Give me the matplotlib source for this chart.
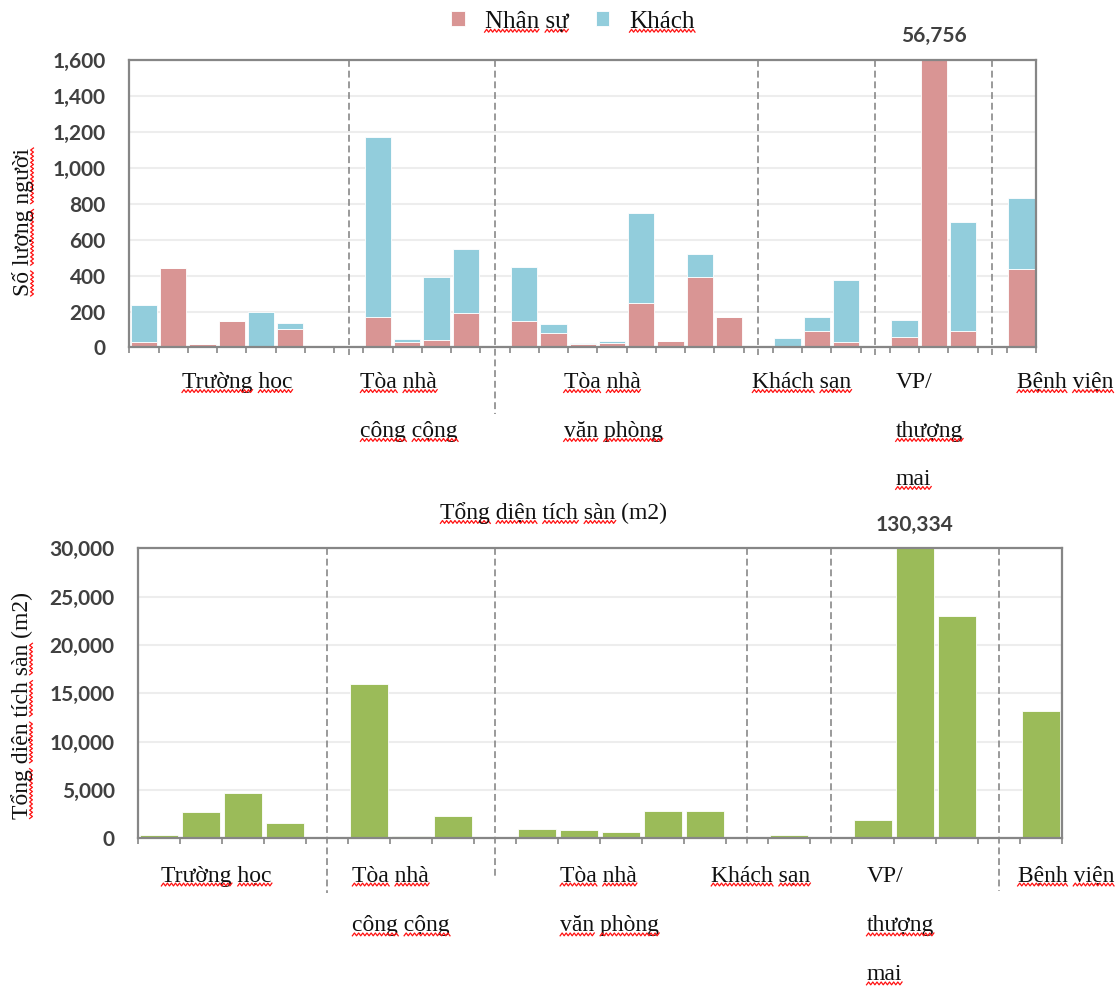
import matplotlib
matplotlib.use('Agg')

import numpy as np
import matplotlib.pyplot as plt
from matplotlib.lines import Line2D
from matplotlib.ticker import FuncFormatter
from matplotlib.transforms import IdentityTransform

# So nguoi theo tung cong trinh, None = o trong ngan cach giua cac nhom
nhan_su = [30, 440, 18, 150, 5, 105, 12, None,
           167, 31, 44, 193, None,
           148, 81, 20, 26, 245, 35, 393, 171, None,
           7, 93, 31, None,
           56, 56756, 93, None,
           436]
khach = [205, 0, 0, 0, 195, 33, 0, None,
         1006, 15, 349, 354, None,
         301, 49, 3, 9, 505, 0, 125, 0, None,
         47, 74, 344, None,
         98, 0, 603, None,
         394]

# Tong dien tich san (m2)
dien_tich = [350, 2760, 4650, 1550, None,
             16000, 270, 2300, None,
             930, 860, 700, 2850, 2800, None,
             350, None,
             1900, 130334, 23000, None,
             13150]

nhom = [['Trường học'], ['Tòa nhà', 'công cộng'], ['Tòa nhà', 'văn phòng'],
        ['Khách sạn'], ['VP/', 'thượng', 'mai'], ['Bệnh viện']]

# vi tri chu thich nhom (theo truc x) va do dai duong ke vach xuong duoi truc
nhom_x_tren = [1.3, 7.4, 14.35, 20.8, 25.7, 29.85]
nhom_x_duoi = [0.05, 4.6, 9.55, 13.15, 16.85, 20.45]
vach_tren = [0.025, 0.23, 0.025, 0.025, 0.025]
vach_duoi = [0.19, 0.14, 0.025, 0.025, 0.18]

HONG = '#D99594'
XANH = '#92CDDC'
LUC = '#9BBB59'
VIEN = '#868686'
CHU = '#111111'
SERIF = 'Liberation Serif'
SANS = 'Lato'

fig = plt.figure(figsize=(11.19, 9.88), dpi=100)
ax1 = fig.add_axes([0.1156, 0.6483, 0.8103, 0.2910])
ax2 = fig.add_axes([0.1236, 0.1515, 0.8252, 0.2935])

gach_chan = []


def khung(ax, n, ymax, step):
    ax.set_xlim(-0.5, n - 0.5)
    ax.set_ylim(0, ymax)
    ax.set_yticks(np.arange(0, ymax + 1, step))
    ax.yaxis.set_major_formatter(FuncFormatter(lambda v, p: f'{v:,.0f}'))
    ax.set_xticks(np.arange(-0.5, n))
    ax.tick_params(axis='x', direction='out', length=4, width=1.2, color=VIEN, labelbottom=False)
    ax.tick_params(axis='y', length=0, pad=17, labelsize=15, labelcolor='#404040')
    for lb in ax.get_yticklabels():
        lb.set_fontfamily(SANS)
        lb.set_fontweight('bold')
    for sp in ax.spines.values():
        sp.set_color(VIEN)
        sp.set_linewidth(1.6)
    ax.yaxis.grid(True, color='#EDEDED', lw=1.5)
    ax.set_axisbelow(True)


def vach_ngan(ax, values, ext):
    pos = [i for i, v in enumerate(values) if v is None]
    for i, e in zip(pos, ext):
        ax.plot([i, i], [1, -e], transform=ax.get_xaxis_transform(), clip_on=False,
                color='#7F7F7F', lw=1.1, ls=(0, (4.5, 2.5)), zorder=1)


def nhan_nhom(ax, xs, rows):
    for x, lines in zip(xs, nhom):
        for k, s in enumerate(lines):
            t = ax.text(x, rows[k], s, transform=ax.get_xaxis_transform(), ha='left', va='center',
                        fontfamily=SERIF, fontsize=17, color=CHU)
            gach_chan.append(t)


def nhan_vuot(ax, xs, totals, ymax):
    for x, v in zip(xs, totals):
        if v > ymax:
            ax.annotate(f'{v:,.0f}', xy=(x, ymax), xytext=(0, 17), textcoords='offset points',
                        ha='center', va='center', fontfamily=SANS, fontweight='bold',
                        fontsize=15, color='#404040', annotation_clip=False)


# bieu do so nguoi
x1 = [i for i, v in enumerate(nhan_su) if v is not None]
ns = [v for v in nhan_su if v is not None]
kh = [v for v in khach if v is not None]
khung(ax1, len(nhan_su), 1600, 200)
b1 = ax1.bar(x1, ns, width=0.9, color=HONG, edgecolor='white', lw=0.6, label='Nhân sự')
b2 = ax1.bar(x1, kh, bottom=ns, width=0.9, color=XANH, edgecolor='white', lw=0.6, label='Khách')
vach_ngan(ax1, nhan_su, vach_tren)
nhan_vuot(ax1, x1, [a + b for a, b in zip(ns, kh)], 1600)
nhan_nhom(ax1, nhom_x_tren, [-0.122, -0.292, -0.459])

# bieu do dien tich san
x2 = [i for i, v in enumerate(dien_tich) if v is not None]
dt = [v for v in dien_tich if v is not None]
khung(ax2, len(dien_tich), 30000, 5000)
ax2.bar(x2, dt, width=0.9, color=LUC, edgecolor='white', lw=0.6)
vach_ngan(ax2, dien_tich, vach_duoi)
nhan_vuot(ax2, x2, dt, 30000)
nhan_nhom(ax2, nhom_x_duoi, [-0.130, -0.302, -0.471])

leg = fig.legend(handles=[b1, b2], loc='center', bbox_to_anchor=(0.512, 0.978), ncol=2,
                 frameon=False, handlelength=0.55, handleheight=0.55, handletextpad=0.8,
                 columnspacing=1.1, prop={'family': SERIF, 'size': 18})
for t in leg.get_texts():
    t.set_color(CHU)
gach_chan.extend(leg.get_texts())

gach_chan.append(fig.text(0.0206, 0.7753, 'Số lượng người', rotation=90, ha='center', va='center',
                          fontfamily=SERIF, fontsize=17, color=CHU))
gach_chan.append(fig.text(0.0197, 0.2864, 'Tổng diện tích sàn (m2)', rotation=90, ha='center',
                          va='center', fontfamily=SERIF, fontsize=17, color=CHU))
gach_chan.append(fig.text(0.495, 0.4808, 'Tổng diện tích sàn (m2)', ha='center', va='center',
                          fontfamily=SERIF, fontsize=17, color=CHU))


# gach song do duoi cac tu (kieu kiem tra chinh ta)
def song(a, b, c, doc=False):
    n = max(int((b - a) / 2.0), 2)
    s = np.linspace(a, b, n + 1)
    d = c + np.where(np.arange(n + 1) % 2, 1.4, -1.4)
    xs, ys = (d, s) if doc else (s, d)
    fig.add_artist(Line2D(xs, ys, transform=IdentityTransform(), color='#FF1010', lw=0.9))


fig.canvas.draw()
r = fig.canvas.get_renderer()
for t in gach_chan:
    s = t.get_text()
    fp = t.get_fontproperties()
    bb = t.get_window_extent(r)
    doc = t.get_rotation() == 90
    pos = 0
    for w in s.split(' '):
        if w and w not in ('(m2)', 'VP/'):
            b = r.get_text_width_height_descent(s[:pos + len(w)], fp, ismath=False)[0]
            a = b - r.get_text_width_height_descent(w, fp, ismath=False)[0]
            if doc:
                song(bb.y0 + a, bb.y0 + b, bb.x1 - 2, doc=True)
            else:
                song(bb.x0 + a, bb.x0 + b, bb.y0 + 2)
        pos += len(w) + 1

fig.savefig('out.png', dpi=100)
